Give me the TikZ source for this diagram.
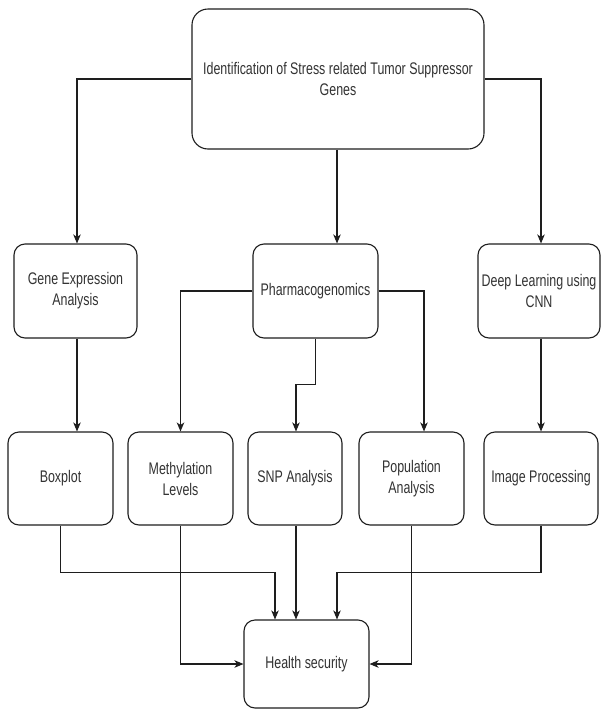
\documentclass[tikz,border=0pt]{standalone}
\usepackage{fontspec}
\setmainfont{Liberation Sans}[FakeStretch=0.74]
\usetikzlibrary{arrows.meta}
\definecolor{txt}{HTML}{333333}
\definecolor{ln}{HTML}{1E1E1E}
\tikzset{
  box/.style={draw=ln, line width=1.1pt, rounded corners=11pt, align=center,
    inner sep=0pt, text=txt, font=\fontsize{16.8}{21}\selectfont},
  arr/.style={draw=ln, line width=1.1pt, -{Stealth[length=9pt,width=7.5pt,inset=2.5pt]}}
}
\begin{document}
\begin{tikzpicture}[x=1pt,y=-1pt]
\useasboundingbox[fill=white] (0,0) rectangle (601,710);
\node[box, rounded corners=16pt, minimum width=292pt, minimum height=140pt] (top) at (338,79)
  {Identification of Stress related Tumor Suppressor\\Genes};
\node[box, minimum width=123pt, minimum height=94pt] (gene) at (75.5,291) {Gene Expression\\Analysis};
\node[box, minimum width=125pt, minimum height=94pt] (pharma) at (315.5,291) {Pharmacogenomics};
\node[box, minimum width=122pt, minimum height=94pt] (deep) at (539,291) {Deep Learning using\\CNN};
\node[box, minimum width=105pt, minimum height=93pt] (boxplot) at (60.5,478.5) {Boxplot};
\node[box, minimum width=105pt, minimum height=93pt] (meth) at (180.5,478.5) {Methylation\\Levels};
\node[box, minimum width=94pt, minimum height=93pt] (snp) at (295,478.5) {SNP Analysis};
\node[box, minimum width=105pt, minimum height=93pt] (pop) at (411.5,478.5) {Population\\Analysis};
\node[box, minimum width=114pt, minimum height=93pt] (img) at (541,478.5) {Image Processing};
\node[box, minimum width=125pt, minimum height=88pt] (health) at (306.5,664) {Health security};
% level 1
\draw[arr] (top.west) -| ([xshift=1.5pt]gene.north);
\draw[arr] (top.east) -| ([xshift=2pt]deep.north);
\draw[arr] ([xshift=-1pt]top.south) -- ([xshift=-1pt]top.south |- pharma.north);
% level 2
\draw[arr] ([xshift=1.5pt]gene.south) -- ([xshift=1.5pt]gene.south |- boxplot.north);
\draw[arr] (pharma.west) -| (meth.north);
\draw[arr] (pharma.east) -| ([xshift=12.5pt]pop.north);
\draw[arr] (pharma.south) -- ++(0,46) -| ([xshift=1pt]snp.north);
\draw[arr] ([xshift=2pt]deep.south) -- ([xshift=2pt]deep.south |- img.north);
% level 3
\draw[arr] (boxplot.south) -- ++(0,47) -| ([xshift=-31.5pt]health.north);
\draw[arr] (img.south) -- ++(0,47) -| ([xshift=30.5pt]health.north);
\draw[arr] ([xshift=1pt]snp.south) -- ([xshift=1pt]snp.south |- health.north);
\draw[arr] (meth.south) |- (health.west);
\draw[arr] (pop.south) |- (health.east);
\end{tikzpicture}
\end{document}
